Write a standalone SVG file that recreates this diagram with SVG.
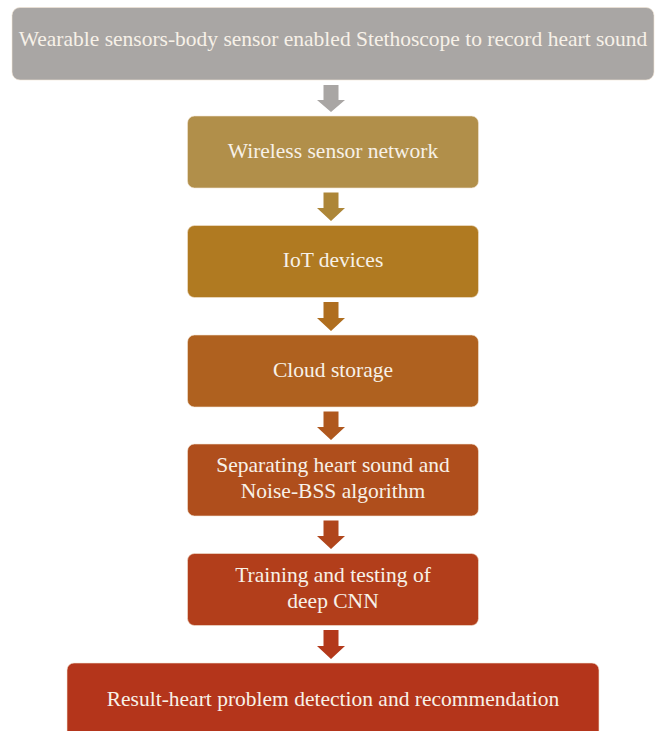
<svg xmlns="http://www.w3.org/2000/svg" width="657" height="731" viewBox="0 0 657 731">
  <style>
    .box { stroke: #f3e6d6; stroke-width: 1; stroke-opacity: 0.6; }
    .lbl { font-family: "Liberation Serif", "Times New Roman", serif; font-size: 21.5px; fill: #f7f1e8; text-anchor: middle; }
  </style>
  <rect width="657" height="731" fill="#ffffff"/>

  <!-- Downward block arrows between stages -->
  <g id="connectors">
    <path d="M323.5,85 H338.5 V100 H345 L331,112 L317,100 H323.5 Z" fill="#a9a6a4"/>
    <path d="M323.5,192.5 H338.5 V208 H345 L331,221 L317,208 H323.5 Z" fill="#ad8638"/>
    <path d="M323.5,302 H338.5 V318 H345 L331,331 L317,318 H323.5 Z" fill="#af6e1f"/>
    <path d="M323.5,411.5 H338.5 V427 H345 L331,440 L317,427 H323.5 Z" fill="#af581e"/>
    <path d="M323.5,520.5 H338.5 V536 H345 L331,549 L317,536 H323.5 Z" fill="#b0461c"/>
    <path d="M323.5,630 H338.5 V646 H345 L331,659 L317,646 H323.5 Z" fill="#b3391b"/>
  </g>

  <g id="n1">
    <rect class="box" x="12" y="7.5" width="642" height="72.5" rx="8" fill="#a9a6a4"/>
    <text class="lbl" x="333" y="46">Wearable sensors-body sensor enabled Stethoscope to record heart sound</text>
  </g>

  <g id="n2">
    <rect class="box" x="187.5" y="116" width="291" height="72" rx="7" fill="#b18f4a"/>
    <text class="lbl" x="333" y="158">Wireless sensor network</text>
  </g>

  <g id="n3">
    <rect class="box" x="187.5" y="225.5" width="291" height="72" rx="7" fill="#b07a21"/>
    <text class="lbl" x="333" y="267">IoT devices</text>
  </g>

  <g id="n4">
    <rect class="box" x="187.5" y="335" width="291" height="72" rx="7" fill="#af611f"/>
    <text class="lbl" x="333" y="377">Cloud storage</text>
  </g>

  <g id="n5">
    <rect class="box" x="187.5" y="444" width="291" height="72" rx="7" fill="#af4e1c"/>
    <text class="lbl" x="333" y="472">Separating heart sound and</text>
    <text class="lbl" x="333" y="498">Noise-BSS algorithm</text>
  </g>

  <g id="n6">
    <rect class="box" x="187.5" y="553.5" width="291" height="72" rx="7" fill="#b23e1b"/>
    <text class="lbl" x="333" y="582">Training and testing of</text>
    <text class="lbl" x="333" y="608">deep CNN</text>
  </g>

  <g id="n7">
    <rect class="box" x="67" y="663" width="532" height="80" rx="7" fill="#b4351b"/>
    <text class="lbl" x="333" y="706">Result-heart problem detection and recommendation</text>
  </g>
</svg>
